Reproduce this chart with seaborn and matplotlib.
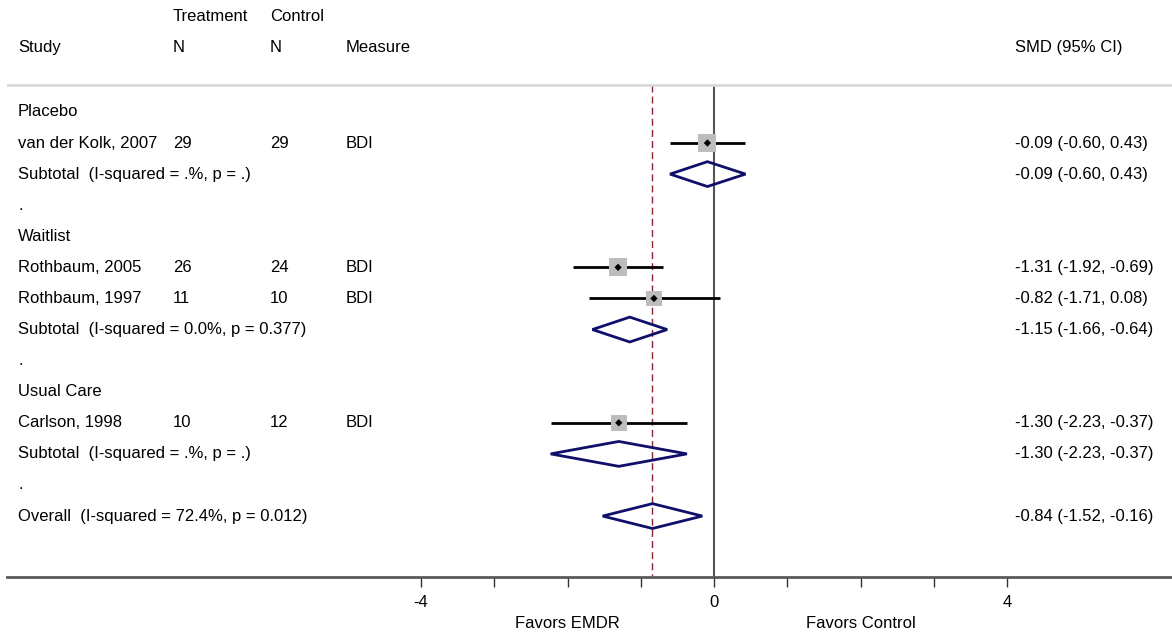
import numpy as np
import pandas as pd
import seaborn as sns
from matplotlib import pyplot as plt
from matplotlib.patches import Polygon

# === DATA ===

studies = ['van der Kolk, 2007', 'Rothbaum, 2005', 'Rothbaum, 1997', 'Carlson, 1998']
study_group = ['Placebo', 'Waitlist', 'Waitlist', 'Usual Care']
n_treat = [29, 26, 11, 10]
n_ctrl = [29, 24, 10, 12]
measure = ['BDI', 'BDI', 'BDI', 'BDI']
smd = [-0.09, -1.31, -0.82, -1.30]
lo = [-0.60, -1.92, -1.71, -2.23]
hi = [0.43, -0.69, 0.08, -0.37]
weight = [27.0, 27.5, 22.0, 23.5]

groups = ['Placebo', 'Waitlist', 'Usual Care']
sub_label = ['Subtotal  (I-squared = .%, p = .)',
             'Subtotal  (I-squared = 0.0%, p = 0.377)',
             'Subtotal  (I-squared = .%, p = .)']
sub_smd = [-0.09, -1.15, -1.30]
sub_lo = [-0.60, -1.66, -2.23]
sub_hi = [0.43, -0.64, -0.37]

overall_label = 'Overall  (I-squared = 72.4%, p = 0.012)'
overall = (-0.84, -1.52, -0.16)

# === LAYOUT ===

sns.set_style('white')
plt.rcParams['font.family'] = ['Liberation Sans', 'DejaVu Sans']
plt.rcParams['text.color'] = 'black'
FS = 12
NAVY = '#10106b'
PX = 73.25  # pixels per SMD unit, zero at pixel 714

fig = plt.figure(figsize=(11.72, 6.35), dpi=100)
ax = fig.add_axes([7 / 1172, 58 / 635, 1165 / 1172, 577 / 635])
ax.set_xlim((7 - 714) / PX, (1172 - 714) / PX)
ax.set_ylim(14.96, -3.6)


def col(px):
    return (px - 714) / PX


COL_STUDY, COL_T, COL_C, COL_M, COL_SMD = col(18), col(173), col(270), col(346), col(1015)


def ci_text(e, a, b):
    return f'{e:.2f} ({a:.2f}, {b:.2f})'


def txt(x, y, s, **kw):
    ax.text(x, y, s, fontsize=FS, va='center', color='black', **kw)


def diamond(est, a, b, y):
    ax.add_patch(Polygon([(a, y), (est, y - 0.4), (b, y), (est, y + 0.4)],
                         closed=True, fill=False, edgecolor=NAVY, lw=2, zorder=3))


row = 0
study_rows = []
for gi, g in enumerate(groups):
    txt(COL_STUDY, row, g)
    row += 1
    for i, s in enumerate(studies):
        if study_group[i] != g:
            continue
        txt(COL_STUDY, row, s)
        txt(COL_T, row, str(n_treat[i]))
        txt(COL_C, row, str(n_ctrl[i]))
        txt(COL_M, row, measure[i])
        txt(COL_SMD, row, ci_text(smd[i], lo[i], hi[i]))
        study_rows.append(row)
        row += 1
    txt(COL_STUDY, row, sub_label[gi])
    txt(COL_SMD, row, ci_text(sub_smd[gi], sub_lo[gi], sub_hi[gi]))
    diamond(sub_smd[gi], sub_lo[gi], sub_hi[gi], row)
    row += 1
    txt(COL_STUDY, row, '.')
    row += 1

txt(COL_STUDY, row, overall_label)
txt(COL_SMD, row, ci_text(*overall))
diamond(overall[0], overall[1], overall[2], row)

# header
txt(COL_T, -3.08, 'Treatment')
txt(COL_C, -3.08, 'Control')
for x, t in [(COL_STUDY, 'Study'), (COL_T, 'N'), (COL_C, 'N'), (COL_M, 'Measure'),
             (COL_SMD, 'SMD (95% CI)')]:
    txt(x, -2.07, t)
ax.axhline(-0.87, color='#d9d9d9', lw=2)

# reference lines
ax.vlines(0, -0.87, 14.96, color='#555555', lw=1.5, zorder=1)
ax.vlines(overall[0], -0.87, 14.96, color='#8b2232', lw=1, ls=(0, (5, 3)), zorder=1)

# study estimates
df = pd.DataFrame({'smd': smd, 'row': study_rows, 'w': weight})
ax.hlines(df.row, lo, hi, color='black', lw=2, zorder=2)
sns.scatterplot(data=df, x='smd', y='row', size='w', sizes=(130, 170), marker='s',
                color='#bdbdbd', edgecolor='none', legend=False, ax=ax, zorder=2)
sns.scatterplot(data=df, x='smd', y='row', marker='D', s=14, color='black',
                edgecolor='none', legend=False, ax=ax, zorder=4)

# axis
for sp in ['top', 'right', 'left']:
    ax.spines[sp].set_visible(False)
ax.spines['bottom'].set_color('#595959')
ax.spines['bottom'].set_linewidth(2)
ax.set_yticks([])
ax.set_xticks(np.arange(-4, 5, 1))
ax.set_xticklabels(['-4', '', '', '', '0', '', '', '', '4'], fontsize=FS, color='black')
ax.tick_params(axis='x', direction='out', length=7, width=1, color='#333333', pad=6,
               bottom=True)
ax.set_xlabel('')
ax.set_ylabel('')
txt(-2, 16.45, 'Favors EMDR', ha='center')
txt(2, 16.45, 'Favors Control', ha='center')

fig.savefig('out.png', dpi=100)
